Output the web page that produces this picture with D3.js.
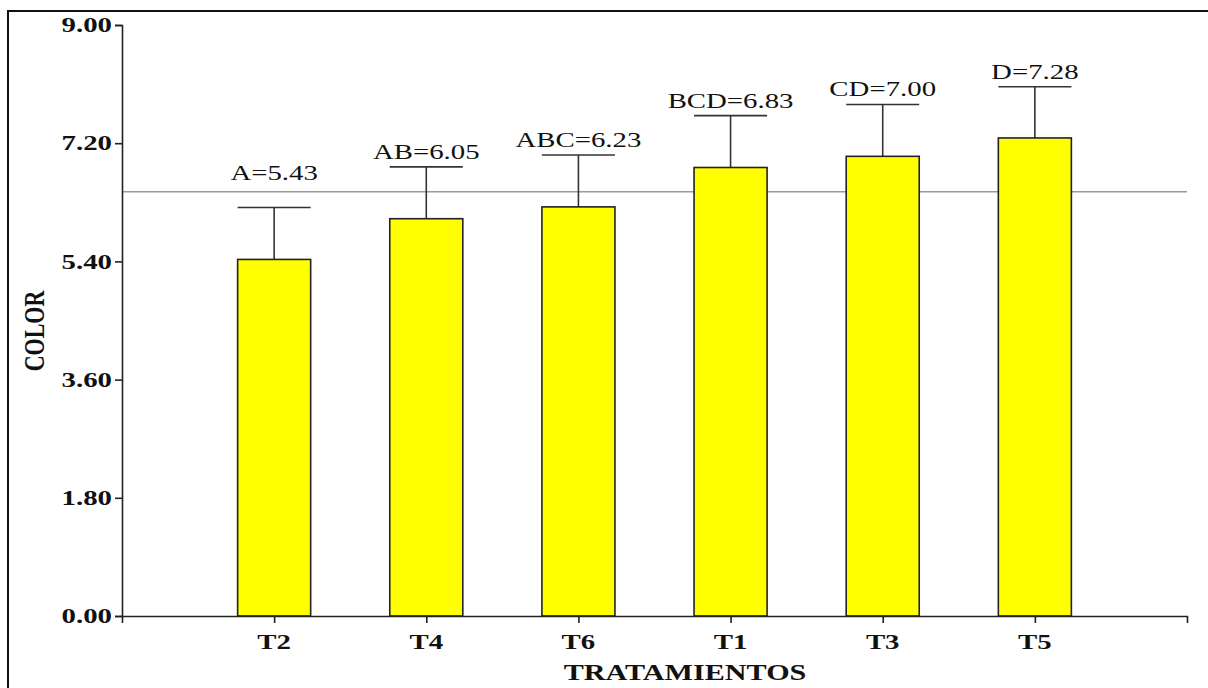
<!DOCTYPE html>
<html>
<head>
<meta charset="utf-8">
<script src="https://cdn.jsdelivr.net/npm/d3@7"></script>
<style>
  html, body { margin: 0; padding: 0; background: #fff; overflow: hidden; }
  svg { display: block; font-family: "Liberation Serif", "Times New Roman", serif; }
</style>
</head>
<body>
<div id="chart"></div>
<script>
// ── Data ─────────────────────────────────────────────
const categories = ["T2", "T4", "T6", "T1", "T3", "T5"];
const groups     = ["A", "AB", "ABC", "BCD", "CD", "D"];
const means      = [5.43, 6.05, 6.23, 6.83, 7.00, 7.28];
const errors     = [0.79, 0.79, 0.79, 0.79, 0.79, 0.78];
const grandMean  = 6.46;
const yTicks     = [0, 1.8, 3.6, 5.4, 7.2, 9.0];

const W = 1208, H = 688;
const margin = { top: 25, right: 21, bottom: 72, left: 122 };
const stretch = 1.31;   // text in the original is stretched horizontally

const svg = d3.select("#chart").append("svg")
  .attr("width", W).attr("height", H);

// outer frame (runs off the right and bottom edges)
svg.append("rect")
  .attr("x", 8).attr("y", 11)
  .attr("width", W + 10).attr("height", H + 10)
  .attr("fill", "none").attr("stroke", "#111").attr("stroke-width", 2);

const x = d3.scalePoint()
  .domain(categories)
  .range([margin.left, W - margin.right])
  .padding(1);

const y = d3.scaleLinear()
  .domain([0, 9])
  .range([H - margin.bottom, margin.top]);

const barW = x.step() * 0.48;

const data = categories.map((c, i) => ({
  cat: c, group: groups[i], mean: means[i], err: errors[i]
}));

// stretched text helper
function sText(g, px, py, str, opts = {}) {
  return g.append("text")
    .attr("transform", `translate(${px},${py}) scale(${stretch},1)` + (opts.rotate ? ` rotate(${opts.rotate})` : ""))
    .attr("text-anchor", opts.anchor || "middle")
    .attr("dominant-baseline", opts.baseline || "auto")
    .style("font-size", (opts.size || 22) + "px")
    .style("font-weight", opts.weight || "normal")
    .style("fill", opts.fill || "#111")
    .text(str);
}

// ── Mean line ────────────────────────────────────────
svg.append("line")
  .attr("x1", margin.left).attr("x2", W - margin.right)
  .attr("y1", y(grandMean)).attr("y2", y(grandMean))
  .attr("stroke", "#9a9a9a").attr("stroke-width", 1.5);

// ── Error bars ───────────────────────────────────────
const eb = svg.append("g").attr("stroke", "#333").attr("stroke-width", 1.6);
data.forEach(d => {
  eb.append("line")
    .attr("x1", x(d.cat)).attr("x2", x(d.cat))
    .attr("y1", y(d.mean)).attr("y2", y(d.mean + d.err));
  eb.append("line")
    .attr("x1", x(d.cat) - barW / 2).attr("x2", x(d.cat) + barW / 2)
    .attr("y1", y(d.mean + d.err)).attr("y2", y(d.mean + d.err));
});

// ── Bars ─────────────────────────────────────────────
svg.selectAll(".bar")
  .data(data).enter().append("rect")
  .attr("class", "bar")
  .attr("x", d => x(d.cat) - barW / 2)
  .attr("y", d => y(d.mean))
  .attr("width", barW)
  .attr("height", d => y(0) - y(d.mean))
  .attr("fill", "#ffff00")
  .attr("stroke", "#222").attr("stroke-width", 1.6);

// ── Labels ───────────────────────────────────────────
data.forEach(d => {
  const top = Math.min(y(d.mean + d.err), y(grandMean) - 4);
  sText(svg, x(d.cat), top - 8, `${d.group}=${d.mean.toFixed(2)}`, { size: 22 });
});

// ── Axes ─────────────────────────────────────────────
const yAxis = svg.append("g")
  .attr("transform", `translate(${margin.left},0)`)
  .call(d3.axisLeft(y).tickValues(yTicks).tickSize(7).tickFormat(() => ""));
yAxis.selectAll("path, line").attr("stroke", "#222").attr("stroke-width", 1.6);
yTicks.forEach(t => {
  sText(svg, margin.left - 10, y(t), d3.format(".2f")(t),
    { anchor: "end", baseline: "central", weight: "bold", size: 22 });
});

const xAxis = svg.append("g")
  .attr("transform", `translate(0,${y(0)})`)
  .call(d3.axisBottom(x).tickSize(7).tickFormat(() => ""));
xAxis.selectAll("path, line").attr("stroke", "#222").attr("stroke-width", 1.6);
categories.forEach(c => {
  sText(svg, x(c), y(0) + 33, c, { weight: "bold", size: 22 });
});

// ── Axis titles ──────────────────────────────────────
sText(svg, 685, 680, "TRATAMIENTOS", { weight: "bold", size: 23 });
sText(svg, 44, 331, "COLOR", { weight: "bold", size: 22, rotate: -90 });
</script>
</body>
</html>
